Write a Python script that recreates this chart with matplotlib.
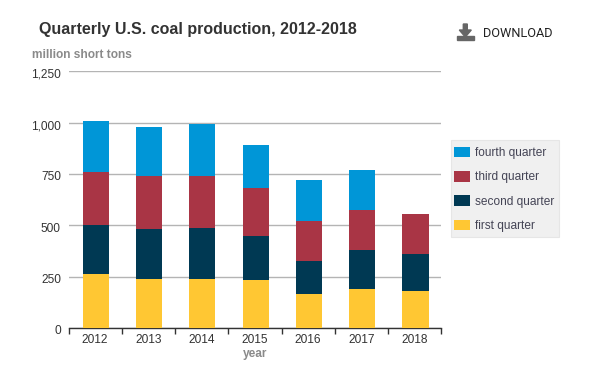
import matplotlib
matplotlib.use('Agg')
import matplotlib.pyplot as plt
import numpy as np
from matplotlib.patches import Polygon, Rectangle
from matplotlib.transforms import ScaledTranslation

plt.rcParams['font.family'] = ['Liberation Sans', 'DejaVu Sans']

years = ['2012', '2013', '2014', '2015', '2016', '2017', '2018']
first_quarter = [263, 238, 238, 233, 165, 190, 180]
second_quarter = [238, 243, 248, 214, 161, 189, 180]
third_quarter = [258, 260, 255, 234, 194, 195, 194]
fourth_quarter = [248, 237, 251, 209, 200, 194, 0]

series_names = ['first quarter', 'second quarter', 'third quarter', 'fourth quarter']
colors = ['#ffc733', '#003953', '#a93545', '#0096d7']
y_ticks = [0, 250, 500, 750, 1000, 1250]
y_labels = ['0', '250', '500', '750', '1,000', '1,250']

W, H = 591, 374
fig = plt.figure(figsize=(W / 100, H / 100), dpi=100)
# axes box in pixels: x 68.5-441, y 71.3-328
ax = fig.add_axes([68.5 / W, 1 - 328 / H, (441.3 - 68.5) / W, (328 - 71.3) / H])

x = np.arange(len(years))
bottom = np.zeros(len(years))
for vals, name, c in zip([first_quarter, second_quarter, third_quarter, fourth_quarter],
                         series_names, colors):
    # bars sit about a pixel right of the category centre in the original
    ax.bar(x + 0.015, vals, width=0.49, bottom=bottom, color=c, label=name, zorder=3)
    bottom += np.array(vals)

ax.set_xlim(-0.5, 6.5)
ax.set_ylim(0, 1250)
ax.set_yticks(y_ticks)
ax.set_yticklabels(y_labels, fontsize=8.6, color='#333333')
ax.tick_params(axis='y', length=0, pad=5.5)
ax.grid(axis='y', color='#b4b4b4', linewidth=1, zorder=0)
ax.set_axisbelow(True)
# y labels hang 2px under their gridline
for lab in ax.get_yticklabels():
    lab.set_transform(lab.get_transform() + ScaledTranslation(0, -2 / 100, fig.dpi_scale_trans))

# category separators as ticks, labels centred between them
ax.set_xticks(np.arange(-0.5, 7, 1))
ax.set_xticklabels([])
ax.set_xticks(x, minor=True)
ax.set_xticklabels(years, minor=True, fontsize=8.6, color='#333333')
ax.tick_params(axis='x', which='major', length=4, width=1, color='#333333')
ax.tick_params(axis='x', which='minor', length=0, pad=4.3)

for s in ['top', 'left', 'right']:
    ax.spines[s].set_visible(False)
ax.spines['bottom'].set_color('#333333')
ax.spines['bottom'].set_linewidth(1)

fig.text(39 / W, 1 - 29.5 / H, 'Quarterly U.S. coal production, 2012-2018', fontsize=11.5,
         fontweight='bold', color='#333333', ha='left', va='center')
fig.text(32 / W, 1 - 55 / H, 'million short tons', fontsize=8.6, fontweight='bold',
         color='#8a8a8a', ha='left', va='center')
fig.text(255 / W, 1 - 353.5 / H, 'year', fontsize=8.6, fontweight='bold',
         color='#8a8a8a', ha='center', va='center')
fig.text(483 / W, 1 - 33.5 / H, 'DOWNLOAD', fontsize=9.2, color='#222222',
         ha='left', va='center', family=['Roboto', 'Liberation Sans'])

# download icon
icon = '#666666'
fig.add_artist(Polygon([[(463.3 + dx) / W, 1 - (24 + dy) / H] for dx, dy in
                        [(0, 0), (4, 0), (4, 6), (8, 6), (2, 13), (-4, 6), (0, 6)]],
                       closed=True, color=icon, transform=fig.transFigure))
fig.add_artist(Rectangle((457 / W, 1 - 40 / H), 17 / W, 4 / H, color=icon,
                         transform=fig.transFigure))

# legend background drawn separately, under the axes, so the swatches can sit close to its edge
fig.add_artist(Rectangle((451 / W, 1 - 237 / H), 108 / W, 97 / H, facecolor='#f0f0f0',
                         edgecolor='#e6e6e6', linewidth=0.8, transform=fig.transFigure,
                         zorder=-1))
handles, labels = ax.get_legend_handles_labels()
leg = ax.legend(handles[::-1], labels[::-1], loc='upper left',
                bbox_to_anchor=(454 / W, 1 - 146.5 / H), bbox_transform=fig.transFigure,
                fontsize=8.6, frameon=False, borderpad=0, borderaxespad=0,
                handlelength=1.34, handleheight=1.0, handletextpad=0.42, labelspacing=1.0)
for t in leg.get_texts():
    t.set_color('#444455')

fig.savefig('out.png', dpi=100)
